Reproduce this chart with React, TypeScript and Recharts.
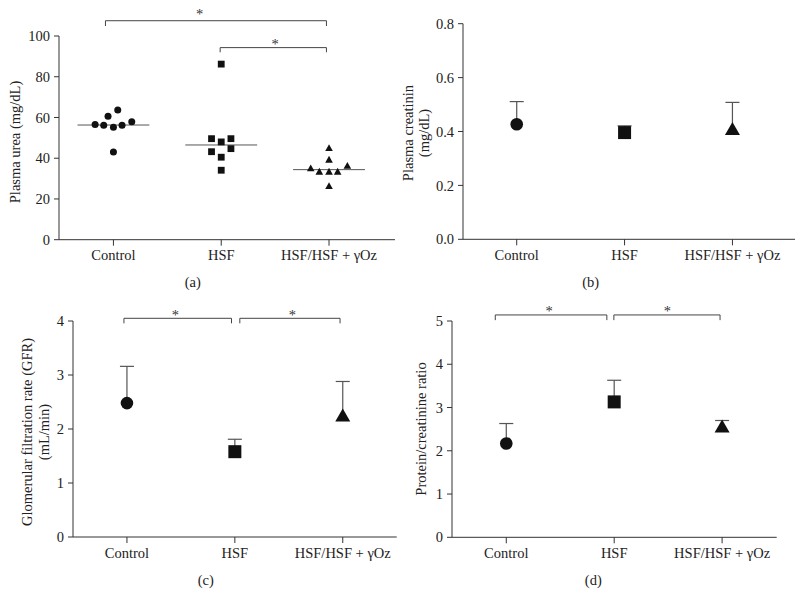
import React from "react";
import {
  ComposedChart,
  Scatter,
  XAxis,
  YAxis,
  ReferenceLine,
  ReferenceDot,
  ErrorBar,
} from "recharts";

const groups = ["Control", "HSF", "HSF/HSF + γOz"];

// (a) plasma urea, one value per animal
const ureaControl = [56.6, 56.2, 60.6, 55.2, 63.7, 56.2, 57.9, 43.1];
const ureaControlJitter = [-0.17, -0.09, -0.05, 0, 0.04, 0.08, 0.17, 0];
const ureaHSF = [86.2, 49.6, 48.0, 49.6, 43.2, 44.7, 40.5, 34.1];
const ureaHSFJitter = [0, -0.09, 0, 0.09, -0.09, 0.09, 0, 0];
const ureaOz = [45.2, 39.5, 35.3, 33.6, 33.6, 33.6, 36.5, 26.5];
const ureaOzJitter = [0, 0, -0.17, -0.09, 0, 0.08, 0.17, 0];
const ureaMeans = [56.3, 46.5, 34.4];

// (b) plasma creatinin, mean + sd
const creatMean = [0.427, 0.396, 0.411];
const creatSd = [0.084, 0.025, 0.097];

// (c) GFR
const gfrMean = [2.48, 1.58, 2.26];
const gfrSd = [0.68, 0.23, 0.62];

// (d) protein/creatinine
const pcrMean = [2.17, 3.13, 2.57];
const pcrSd = [0.46, 0.5, 0.13];

// significance brackets: from, to, level, drop, star x, star y
const bracketsA = [
  { from: 0.926, to: 2.976, level: 107.5, drop: 2.6, sx: 1.8, sy: 112 },
  { from: 1.99, to: 2.976, level: 94.3, drop: 2.3, sx: 2.5, sy: 97.2 },
];
const bracketsC = [
  { from: 0.972, to: 1.969, level: 4.05, drop: 0.093, sx: 1.449, sy: 4.15 },
  { from: 2.046, to: 2.975, level: 4.05, drop: 0.093, sx: 2.532, sy: 4.15 },
];
const bracketsD = [
  { from: 0.898, to: 1.932, level: 5.14, drop: 0.12, sx: 1.398, sy: 5.29 },
  { from: 1.997, to: 2.981, level: 5.14, drop: 0.12, sx: 2.494, sy: 5.29 },
];

const FONT = "Liberation Serif, Times New Roman, serif";
const FS = 14.5;
const INK = "#111";
const AXIS = "#333";

const circle = (r: number) => (p: any) =>
  p.cx == null ? <g /> : <circle cx={p.cx} cy={p.cy} r={r} fill={INK} />;
const square = (s: number) => (p: any) =>
  p.cx == null ? <g /> : (
    <rect x={p.cx - s / 2} y={p.cy - s / 2} width={s} height={s} fill={INK} />
  );
const triangle = (w: number, h: number) => (p: any) =>
  p.cx == null ? <g /> : (
    <path
      d={`M${p.cx},${p.cy - h / 2}L${p.cx + w / 2},${p.cy + h / 2}L${p.cx - w / 2},${p.cy + h / 2}Z`}
      fill={INK}
    />
  );

const star = (p: any) =>
  p.cx == null ? <g /> : (
    <text
      x={p.cx}
      y={p.cy + 7.5}
      textAnchor="middle"
      fontFamily={FONT}
      fontSize={FS}
      fill="#333"
    >
      *
    </text>
  );

const tickStyle = { fontFamily: FONT, fontSize: FS, fill: "#222" };

function brackets(list: any[]) {
  const out: React.ReactNode[] = [];
  list.forEach((b, i) => {
    const props = { stroke: "#444", strokeWidth: 1, ifOverflow: "visible" as const };
    out.push(
      <ReferenceLine key={`bh${i}`} {...props} segment={[{ x: b.from, y: b.level }, { x: b.to, y: b.level }]} />,
      <ReferenceLine key={`bl${i}`} {...props} segment={[{ x: b.from, y: b.level }, { x: b.from, y: b.level - b.drop }]} />,
      <ReferenceLine key={`br${i}`} {...props} segment={[{ x: b.to, y: b.level }, { x: b.to, y: b.level - b.drop }]} />,
      <ReferenceDot key={`bs${i}`} x={b.sx} y={b.sy} r={0} ifOverflow="visible" shape={star} />
    );
  });
  return out;
}

function axes(xDomain: number[], yDomain: number[], yTicks: number[], yWidth: number, fmt?: (v: number) => string) {
  return [
    <XAxis
      key="x"
      type="number"
      dataKey="x"
      domain={xDomain}
      allowDataOverflow
      ticks={[1, 2, 3]}
      tickFormatter={(v: number) => groups[v - 1]}
      tick={tickStyle}
      tickSize={6}
      tickMargin={4.5}
      height={30}
      axisLine={{ stroke: AXIS }}
      tickLine={{ stroke: AXIS }}
    />,
    <YAxis
      key="y"
      type="number"
      dataKey="y"
      domain={yDomain}
      allowDataOverflow
      ticks={yTicks}
      tickFormatter={fmt}
      tick={tickStyle}
      tickSize={5}
      tickMargin={4}
      width={yWidth}
      axisLine={{ stroke: AXIS }}
      tickLine={{ stroke: AXIS }}
    />,
  ];
}

const shapesBig = [circle(6.3), square(13), triangle(15, 13)];

function SummaryPanel(props: {
  means: number[];
  sds: number[];
  xDomain: number[];
  yDomain: number[];
  yTicks: number[];
  yWidth: number;
  fmt?: (v: number) => string;
  width: number;
  height: number;
  margin: any;
  brackets?: any[];
}) {
  const capHalf = 0.065;
  return (
    <ComposedChart width={props.width} height={props.height} margin={props.margin}>
      {axes(props.xDomain, props.yDomain, props.yTicks, props.yWidth, props.fmt)}
      {props.means.map((m, i) => (
        <ReferenceLine
          key={`cap${i}`}
          stroke="#555"
          strokeWidth={1.2}
          ifOverflow="visible"
          segment={[
            { x: i + 1 - capHalf, y: m + props.sds[i] },
            { x: i + 1 + capHalf, y: m + props.sds[i] },
          ]}
        />
      ))}
      {props.means.map((m, i) => (
        <Scatter
          key={`s${i}`}
          data={[{ x: i + 1, y: m, err: [0, props.sds[i]] }]}
          shape={shapesBig[i]}
          isAnimationActive={false}
        >
          <ErrorBar dataKey="err" direction="y" width={0} stroke="#555" strokeWidth={1.2} />
        </Scatter>
      ))}
      {props.brackets ? brackets(props.brackets) : null}
    </ComposedChart>
  );
}

function UreaPanel() {
  const mk = (vals: number[], jit: number[], g: number) =>
    vals.map((v, i) => ({ x: g + jit[i], y: v }));
  return (
    <ComposedChart width={400} height={300} margin={{ top: 36, right: 5, left: 0, bottom: 30.3 }}>
      {axes([0.495, 3.612], [0, 100], [0, 20, 40, 60, 80, 100], 59)}
      {ureaMeans.map((m, i) => (
        <ReferenceLine
          key={`m${i}`}
          stroke="#555"
          strokeWidth={1}
          segment={[
            { x: i + 1 - 1 / 3, y: m },
            { x: i + 1 + 1 / 3, y: m },
          ]}
        />
      ))}
      <Scatter data={mk(ureaControl, ureaControlJitter, 1)} shape={circle(3.5)} isAnimationActive={false} />
      <Scatter data={mk(ureaHSF, ureaHSFJitter, 2)} shape={square(6.8)} isAnimationActive={false} />
      <Scatter data={mk(ureaOz, ureaOzJitter, 3)} shape={triangle(7.6, 6.8)} isAnimationActive={false} />
      {brackets(bracketsA)}
    </ComposedChart>
  );
}

const titles = [
  { lines: ["Plasma urea (mg/dL)"], xs: [15], y: 142 },
  { lines: ["Plasma creatinin", "(mg/dL)"], xs: [407.5, 424], y: 133 },
  { lines: ["Glomerular filtration rate (GFR)", "(mL/min)"], xs: [27, 43.5], y: 432 },
  { lines: ["Protein/creatinine ratio"], xs: [421], y: 429 },
];
const letters = [
  { t: "(a)", x: 192.7, y: 281.7 },
  { t: "(b)", x: 590.7, y: 281.7 },
  { t: "(c)", x: 205.7, y: 580 },
  { t: "(d)", x: 593.3, y: 580 },
];

export default function App() {
  return (
    <div
      style={{
        position: "fixed",
        left: 0,
        top: 0,
        width: 796,
        height: 606,
        background: "#fff",
        fontFamily: FONT,
      }}
    >
      <div style={{ position: "absolute", left: 0, top: 0 }}>
        <UreaPanel />
      </div>
      <div style={{ position: "absolute", left: 400, top: 0 }}>
        <SummaryPanel
          means={creatMean}
          sds={creatSd}
          xDomain={[0.502, 3.58]}
          yDomain={[0, 0.8]}
          yTicks={[0, 0.2, 0.4, 0.6, 0.8]}
          fmt={(v) => v.toFixed(1)}
          yWidth={63}
          width={396}
          height={300}
          margin={{ top: 23.7, right: 1, left: 0, bottom: 30.7 }}
        />
      </div>
      <div style={{ position: "absolute", left: 0, top: 300 }}>
        <SummaryPanel
          means={gfrMean}
          sds={gfrSd}
          xDomain={[0.5, 3.5]}
          yDomain={[0, 4]}
          yTicks={[0, 1, 2, 3, 4]}
          yWidth={73}
          width={400}
          height={306}
          margin={{ top: 21, right: 3.3, left: 0, bottom: 39 }}
          brackets={bracketsC}
        />
      </div>
      <div style={{ position: "absolute", left: 400, top: 300 }}>
        <SummaryPanel
          means={pcrMean}
          sds={pcrSd}
          xDomain={[0.497, 3.506]}
          yDomain={[0, 5]}
          yTicks={[0, 1, 2, 3, 4, 5]}
          yWidth={52}
          width={396}
          height={306}
          margin={{ top: 21, right: 19.3, left: 0, bottom: 38.7 }}
          brackets={bracketsD}
        />
      </div>
      <svg
        width={796}
        height={606}
        style={{ position: "absolute", left: 0, top: 0, pointerEvents: "none" }}
      >
        {titles.map((t, i) =>
          t.lines.map((line, j) => (
            <text
              key={`${i}-${j}`}
              x={t.xs[j]}
              y={t.y}
              transform={`rotate(-90 ${t.xs[j]} ${t.y})`}
              textAnchor="middle"
              dominantBaseline="central"
              fontFamily={FONT}
              fontSize={FS}
              fill="#222"
            >
              {line}
            </text>
          ))
        )}
        {letters.map((l) => (
          <text
            key={l.t}
            x={l.x}
            y={l.y}
            textAnchor="middle"
            dominantBaseline="central"
            fontFamily={FONT}
            fontSize={FS}
            fill="#222"
          >
            {l.t}
          </text>
        ))}
      </svg>
    </div>
  );
}
